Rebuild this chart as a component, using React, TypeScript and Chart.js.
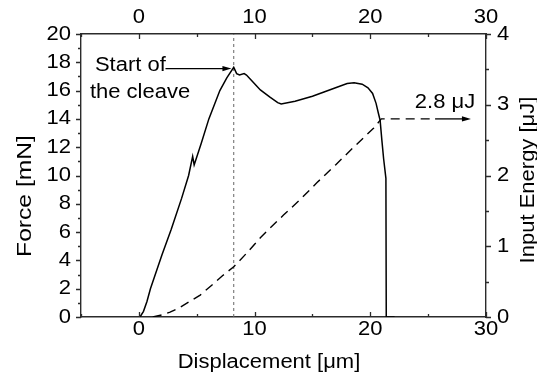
import React, { useEffect, useRef } from 'react';
import { Chart, registerables } from 'chart.js';

Chart.register(...registerables);

// ---- data ----
const xTickValues = [0, 10, 20, 30];
const xMinorTicks = [-5, 5, 15, 25];
const forceTickValues = [0, 2, 4, 6, 8, 10, 12, 14, 16, 18, 20];
const forceMinorTicks = [1, 3, 5, 7, 9, 11, 13, 15, 17, 19];
const energyTickValues = [0, 1, 2, 3, 4];
const energyMinorTicks = [0.5, 1.5, 2.5, 3.5];

// Force [mN] vs displacement [µm]
const forceX = [0.1, 0.4, 0.7, 1.0, 2.0, 2.8, 3.7, 4.3, 4.65, 4.78, 5.4, 6.05, 7.0, 7.6, 8.2, 8.45, 8.7, 9.1, 9.3, 9.7, 10.1, 10.5, 11.3, 12.0, 12.3, 13.5, 15.0, 16.0, 17.0, 18.0, 18.6, 19.3, 19.8, 20.2, 20.5, 20.7, 20.85, 21.0, 21.15, 21.35, 21.38, 22.1];
const forceY = [0, 0.4, 1.1, 2.0, 4.4, 6.2, 8.4, 10.0, 11.35, 10.75, 12.3, 14.0, 16.0, 16.9, 17.65, 17.2, 17.1, 17.2, 17.1, 16.75, 16.4, 16.05, 15.55, 15.15, 15.05, 15.25, 15.6, 15.9, 16.2, 16.5, 16.55, 16.45, 16.2, 15.8, 15.1, 14.4, 13.9, 12.5, 11.2, 9.8, 0, 0];

// Input energy [µJ] vs displacement [µm]
const energyX = [1.2, 2.0, 2.7, 3.5, 4.3, 5.3, 6.3, 7.2, 8.2, 9.3, 10.5, 11.3, 12.5, 14.0, 15.4, 17.0, 18.5, 20.3, 20.95, 25.2];
const energyY = [0, 0.03, 0.07, 0.13, 0.21, 0.31, 0.45, 0.58, 0.71, 0.9, 1.12, 1.25, 1.44, 1.67, 1.9, 2.15, 2.39, 2.67, 2.8, 2.8];

// start of the cleave (vertical marker)
const cleaveX = [8.2, 8.2];
const cleaveY = [0, 20];

const xTitle = 'Displacement [μm]';
const yTitle = 'Force [mN]';
const y2Title = 'Input Energy [μJ]';
const cleaveLabel = ['Start of', 'the cleave'];
const energyLabel = '2.8 μJ';

const FONT_FAMILY = '"Liberation Sans", Arial, sans-serif';
const FONT_SIZE = 20;
const STRETCH = 1.1;
const AXIS_COLOR = '#2b2b2b';

const pts = (xs: number[], ys: number[]) => xs.map((v, i) => ({ x: v, y: ys[i] }));

const stretchPlugin = {
  id: 'stretchText',
  beforeDraw(chart: any) {
    const ctx = chart.ctx as any;
    if (!ctx.__stretched) {
      const orig = ctx.fillText.bind(ctx);
      ctx.fillText = (t: string, x: number, y: number, mw?: number) => {
        ctx.save();
        ctx.translate(x, y);
        ctx.scale(STRETCH, 1);
        if (mw === undefined || mw === null) orig(t, 0, 0);
        else orig(t, 0, 0, mw / STRETCH);
        ctx.restore();
      };
      ctx.__stretched = true;
    }
  },
};

function drawArrow(ctx: CanvasRenderingContext2D, x1: number, x2: number, y: number) {
  const head = 9;
  const half = 2.6;
  ctx.beginPath();
  ctx.moveTo(x1, y);
  ctx.lineTo(x2 - head + 1, y);
  ctx.stroke();
  ctx.beginPath();
  ctx.moveTo(x2, y);
  ctx.lineTo(x2 - head, y - half);
  ctx.lineTo(x2 - head, y + half);
  ctx.closePath();
  ctx.fill();
}

const decorPlugin = {
  id: 'decor',
  afterDraw(chart: any) {
    const { ctx, chartArea: a, scales } = chart;
    const { x, y, y2 } = scales;
    ctx.save();
    ctx.strokeStyle = AXIS_COLOR;
    ctx.lineWidth = 1.3;
    ctx.beginPath();
    const xt = [...xTickValues.map((v) => [v, 5]), ...xMinorTicks.map((v) => [v, 3])];
    xt.forEach(([v, len]) => {
      const px = Math.round(x.getPixelForValue(v)) + 0.5;
      ctx.moveTo(px, a.bottom);
      ctx.lineTo(px, a.bottom - len);
      ctx.moveTo(px, a.top);
      ctx.lineTo(px, a.top + len);
    });
    const yt = [...forceTickValues.map((v) => [v, 5]), ...forceMinorTicks.map((v) => [v, 3])];
    yt.forEach(([v, len]) => {
      const py = Math.round(y.getPixelForValue(v)) + 0.5;
      ctx.moveTo(a.left, py);
      ctx.lineTo(a.left - len, py);
    });
    const y2t = [...energyTickValues.map((v) => [v, 5]), ...energyMinorTicks.map((v) => [v, 3])];
    y2t.forEach(([v, len]) => {
      const py = Math.round(y2.getPixelForValue(v)) + 0.5;
      ctx.moveTo(a.right, py);
      ctx.lineTo(a.right + len, py);
    });
    ctx.stroke();

    // annotations
    ctx.fillStyle = '#000';
    ctx.strokeStyle = '#000';
    ctx.lineWidth = 1.3;
    ctx.font = `${FONT_SIZE}px ${FONT_FAMILY}`;
    ctx.textAlign = 'left';
    ctx.textBaseline = 'alphabetic';
    ctx.fillText(cleaveLabel[0], x.getPixelForValue(-3.8), y.getPixelForValue(17.39));
    ctx.fillText(cleaveLabel[1], x.getPixelForValue(-4.23), y.getPixelForValue(15.48));
    drawArrow(ctx, x.getPixelForValue(2.3), x.getPixelForValue(8.0), y.getPixelForValue(17.56));
    ctx.fillText(energyLabel, x.getPixelForValue(23.85), y2.getPixelForValue(2.955));
    drawArrow(ctx, x.getPixelForValue(25.6), x.getPixelForValue(28.7), y2.getPixelForValue(2.8));

    // axis titles
    ctx.textAlign = 'center';
    ctx.fillText(xTitle, 269, 368);
    ctx.save();
    ctx.translate(31, 196);
    ctx.rotate(-Math.PI / 2);
    ctx.scale(1.12, 1);
    ctx.fillText(yTitle, 0, 0);
    ctx.restore();
    ctx.save();
    ctx.translate(534, 180);
    ctx.rotate(-Math.PI / 2);
    ctx.fillText(y2Title, 0, 0);
    ctx.restore();
    ctx.restore();
  },
};

const tickFont = { family: FONT_FAMILY, size: FONT_SIZE };

function xScale(position: 'top' | 'bottom', height: number, padding: number) {
  return {
    type: 'linear' as const,
    position,
    min: -5,
    max: 30,
    afterBuildTicks: (s: any) => {
      s.ticks = xTickValues.map((v) => ({ value: v }));
    },
    afterFit: (s: any) => {
      s.height = height;
    },
    grid: { display: false, drawTicks: false },
    border: { display: true, color: AXIS_COLOR, width: 1.4 },
    ticks: { font: tickFont, color: '#000', padding, autoSkip: false, maxRotation: 0 },
  };
}

export default function App() {
  const ref = useRef<HTMLCanvasElement | null>(null);
  useEffect(() => {
    if (!ref.current) return;
    const chart = new Chart(ref.current, {
      type: 'scatter',
      data: {
        datasets: [
          {
            label: 'Force',
            data: pts(forceX, forceY),
            yAxisID: 'y',
            showLine: true,
            borderColor: '#000',
            borderWidth: 1.5,
            pointRadius: 0,
            tension: 0,
          },
          {
            label: 'Input energy',
            data: pts(energyX, energyY),
            yAxisID: 'y2',
            showLine: true,
            borderColor: '#000',
            borderWidth: 1.4,
            borderDash: [9, 6],
            pointRadius: 0,
            tension: 0,
          },
          {
            label: 'Cleave start',
            data: pts(cleaveX, cleaveY),
            yAxisID: 'y',
            showLine: true,
            borderColor: '#666',
            borderWidth: 1,
            borderDash: [3, 3],
            pointRadius: 0,
          },
        ],
      },
      options: {
        responsive: false,
        animation: false,
        layout: { padding: 0 },
        plugins: { legend: { display: false }, tooltip: { enabled: false } },
        scales: {
          x: xScale('bottom', 58, 0.5),
          xTop: xScale('top', 34, 5),
          y: {
            type: 'linear',
            position: 'left',
            min: 0,
            max: 20,
            afterBuildTicks: (s: any) => {
              s.ticks = forceTickValues.map((v) => ({ value: v }));
            },
            afterFit: (s: any) => {
              s.width = 81;
            },
            grid: { display: false, drawTicks: false },
            border: { display: true, color: AXIS_COLOR, width: 1.4 },
            ticks: { font: tickFont, color: '#000', padding: 10, autoSkip: false },
          },
          y2: {
            type: 'linear',
            position: 'right',
            min: 0,
            max: 4,
            afterBuildTicks: (s: any) => {
              s.ticks = energyTickValues.map((v) => ({ value: v }));
            },
            afterFit: (s: any) => {
              s.width = 51;
            },
            grid: { display: false, drawTicks: false },
            border: { display: true, color: AXIS_COLOR, width: 1.4 },
            ticks: { font: tickFont, color: '#000', padding: 11, autoSkip: false },
          },
        },
      },
      plugins: [stretchPlugin, decorPlugin],
    } as any);
    return () => chart.destroy();
  }, []);
  return (
    <canvas
      ref={ref}
      width={537}
      height={375}
      style={{ position: 'absolute', left: 0, top: 0, width: '537px', height: '375px', background: '#fff' }}
    />
  );
}
